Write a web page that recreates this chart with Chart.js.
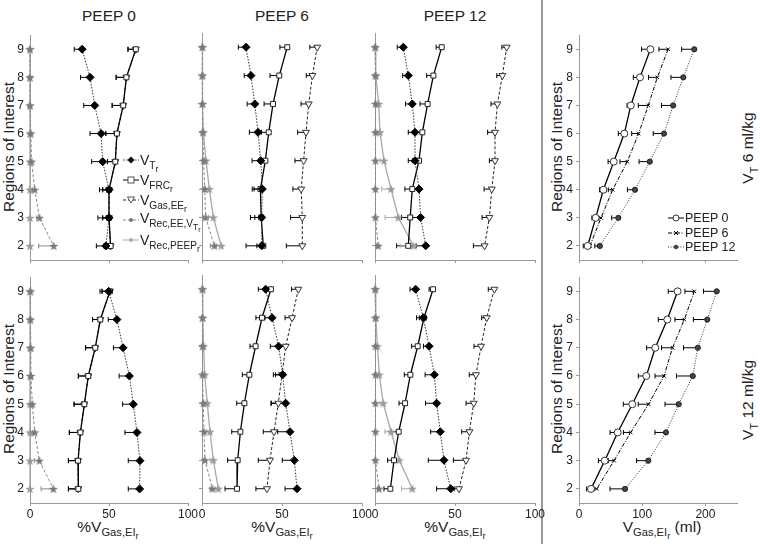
<!DOCTYPE html>
<html>
<head>
<meta charset="utf-8">
<script src="https://cdn.jsdelivr.net/npm/chart.js@4.4.0/dist/chart.umd.min.js"></script>
<style>
	body { margin: 0; width: 760px; height: 544px; background: #fff; position: relative; overflow: hidden;
		font-family: "Liberation Sans", Arial, sans-serif; color: #222; }
	.panel { position: absolute; }
	.txt { position: absolute; white-space: nowrap; line-height: 1; }
	.rot { transform: translate(-50%, -50%) rotate(-90deg); }
	.ctr { transform: translateX(-50%); }
	sub { font-size: 0.72em; vertical-align: -0.4em; line-height: 0; }
	sub sub { font-size: 0.85em; vertical-align: -0.3em; }
	.leg { position: absolute; font-size: 14px; }
	.leg div { height: 20px; display: flex; align-items: center; }
	.leg svg { margin-right: 1px; }
	.leg2 { position: absolute; font-size: 12.5px; }
	.leg2 div { height: 14.5px; display: flex; align-items: center; }
	.leg2 svg { margin-right: 1px; }
</style>
</head>
<body>

<div class="txt ctr" style="left:109px; top:8px; font-size:15.5px;">PEEP 0</div>
<div class="txt ctr" style="left:282px; top:8px; font-size:15.5px;">PEEP 6</div>
<div class="txt ctr" style="left:455px; top:8px; font-size:15.5px;">PEEP 12</div>

<div class="txt rot" style="left:9px; top:147px; font-size:15.5px;">Regions of Interest</div>
<div class="txt rot" style="left:9px; top:389px; font-size:15.5px;">Regions of Interest</div>
<div class="txt rot" style="left:557px; top:147px; font-size:15.5px;">Regions of Interest</div>
<div class="txt rot" style="left:557px; top:389px; font-size:15.5px;">Regions of Interest</div>

<div class="txt rot" style="left:748px; top:148px; font-size:15.5px;">V<sub>T</sub> 6 ml/kg</div>
<div class="txt rot" style="left:748px; top:400px; font-size:15.5px;">V<sub>T</sub> 12 ml/kg</div>

<div class="txt ctr" style="left:108px; top:519px; font-size:15.5px;">%V<sub>Gas,EI<sub>r</sub></sub></div>
<div class="txt ctr" style="left:282px; top:519px; font-size:15.5px;">%V<sub>Gas,EI<sub>r</sub></sub></div>
<div class="txt ctr" style="left:455px; top:519px; font-size:15.5px;">%V<sub>Gas,EI<sub>r</sub></sub></div>
<div class="txt ctr" style="left:662px; top:519px; font-size:15.5px;">V<sub>Gas,EI<sub>r</sub></sub> (ml)</div>

<div style="position:absolute; left:541px; top:0; width:2px; height:544px; background:#999;"></div>

<div id="panels"></div>

<div class="leg" style="left:123px; top:150px;">
	<div><svg width="16" height="10"><line x1="0" y1="5" x2="16" y2="5" stroke="#333" stroke-dasharray="1.5 1.5"/><polygon points="8,1.5 11.5,5 8,8.5 4.5,5" fill="#000"/></svg><span>V<sub>T<sub>r</sub></sub></span></div>
	<div><svg width="16" height="10"><line x1="0" y1="5" x2="16" y2="5" stroke="#000"/><rect x="5" y="2" width="6" height="6" fill="#fff" stroke="#555"/></svg><span>V<sub>FRC<sub>r</sub></sub></span></div>
	<div><svg width="16" height="10"><line x1="0" y1="5" x2="16" y2="5" stroke="#222" stroke-dasharray="3 2"/><polygon points="4.5,2 11.5,2 8,8" fill="#fff" stroke="#555"/></svg><span>V<sub>Gas,EE<sub>r</sub></sub></span></div>
	<div><svg width="16" height="10"><line x1="0" y1="5" x2="16" y2="5" stroke="#888" stroke-dasharray="3 2"/><circle cx="8" cy="5" r="2" fill="#777"/></svg><span>V<sub>Rec,EE,V<sub>T<sub>r</sub></sub></sub></span></div>
	<div><svg width="16" height="10"><line x1="0" y1="5" x2="16" y2="5" stroke="#aaa"/><circle cx="8" cy="5" r="2" fill="#aaa"/></svg><span>V<sub>Rec,PEEP<sub>r</sub></sub></span></div>
</div>

<div class="leg2" style="left:668px; top:211px;">
	<div><svg width="16" height="10"><line x1="0" y1="5" x2="16" y2="5" stroke="#000"/><circle cx="8" cy="5" r="3" fill="#fff" stroke="#333"/></svg><span>PEEP 0</span></div>
	<div><svg width="16" height="10"><line x1="0" y1="5" x2="16" y2="5" stroke="#000" stroke-dasharray="4 1.5 1 1.5"/><path d="M6 3 L10 7 M10 3 L6 7" stroke="#000"/></svg><span>PEEP 6</span></div>
	<div><svg width="16" height="10"><line x1="0" y1="5" x2="16" y2="5" stroke="#333" stroke-dasharray="1 1.5"/><circle cx="8" cy="5" r="2.2" fill="#444"/></svg><span>PEEP 12</span></div>
</div>

<script>
	'use strict';

	// regions along the y axis, listed from top (9) to bottom (2)
	const regions = [9, 8, 7, 6, 5, 4, 3, 2];
	const regionTicks = [2, 3, 4, 5, 6, 7, 8, 9];
	const pctTicks = [0, 50, 100];
	const mlTicks = [0, 100, 200];

	// VT 6 ml/kg, PEEP 0
	const vt6p0VT = [33, 38, 41, 45, 46, 50, 50, 48];
	const vt6p0VTErr = [5, 6, 7, 7, 7, 6, 7, 6];
	const vt6p0FRC = [67, 61, 59, 55, 54, 50, 50, 51];
	const vt6p0FRCErr = [5, 6.5, 7, 7, 5, 4, 4, 4];
	const vt6p0Gas = [67, 61, 59, 55, 54, 50, 50, 51];
	const vt6p0RecEE = [0, 0, 0, 0.5, 1, 3, 6, 15];
	const vt6p0RecEEErr = [0.5, 0.5, 0.5, 0.8, 1, 1.5, 1.7, 9.5];
	const vt6p0RecPEEP = [0, 0, 0, 0, 0, 0, 0, 0];

	// VT 6 ml/kg, PEEP 6
	const vt6p6VT = [27.5, 30.6, 33, 35, 36.7, 37.7, 37.3, 37.3];
	const vt6p6VTErr = [4.8, 4.2, 4.8, 5.4, 5.4, 6.3, 7, 9.8];
	const vt6p6FRC = [53.3, 48.3, 44.4, 41.7, 39.6, 36.5, 37, 38.3];
	const vt6p6FRCErr = [4.6, 5.8, 5.6, 4.5, 4, 4, 4, 4];
	const vt6p6Gas = [72, 69, 66.7, 65, 63.5, 62, 62.7, 62.7];
	const vt6p6GasErr = [4.6, 3.8, 4.8, 5.2, 5.4, 5.2, 7.3, 10];
	const vt6p6RecEE = [0.2, 0.2, 0.3, 0.5, 1, 1.7, 2.3, 7.7];
	const vt6p6RecEEErr = [0.5, 0.5, 0.5, 0.5, 0.8, 1, 1.5, 2.5];
	const vt6p6RecPEEP = [0.3, 0.3, 0.3, 0.8, 2.5, 4.6, 7.1, 12];
	const vt6p6RecPEEPErr = [0.5, 0.5, 0.5, 0.8, 1.5, 2.5, 3, 3];

	// VT 6 ml/kg, PEEP 12
	const vt6p12VT = [17.7, 20.8, 23.3, 25, 25, 27.5, 28.5, 31.7];
	const vt6p12VTErr = [3.8, 3.5, 4.2, 4.2, 4.2, 5, 5, 6];
	const vt6p12FRC = [41.7, 36.5, 32.9, 29.6, 27.5, 23.3, 22, 20.8];
	const vt6p12FRCErr = [3.5, 4.2, 4.8, 4.5, 4, 4.6, 5.4, 7.3];
	const vt6p12Gas = [82.3, 79.6, 76.5, 75, 75, 73, 71.5, 68.5];
	const vt6p12GasErr = [3, 3.5, 4, 4.6, 3.5, 4.8, 4.6, 7];
	const vt6p12RecEE = [0.3, 0.3, 0.3, 0.3, 0.3, 0.3, 0.3, 2];
	const vt6p12RecEEErr = [0.5, 0.5, 0.5, 0.5, 0.5, 0.5, 0.5, 1];
	const vt6p12RecPEEP = [0, 0.5, 2.3, 3.1, 5.6, 10, 14.6, 24];
	const vt6p12RecPEEPErr = [0.5, 1, 1, 1.5, 2.5, 5.8, 8.3, 8.3];

	// VT 12 ml/kg, PEEP 0
	const vt12p0VT = [49.8, 55, 58.9, 62.9, 65.4, 67.7, 69.6, 69.4];
	const vt12p0VTErr = [5.5, 5.5, 6.1, 6.5, 6.8, 7.6, 7.4, 7.2];
	const vt12p0FRC = [50.6, 44.5, 41.3, 36.9, 34.4, 31.9, 30.4, 30.6];
	const vt12p0FRCErr = [5, 4.9, 6.1, 6.3, 6.5, 7, 6.1, 6.3];
	const vt12p0Gas = [50.6, 44.5, 41.3, 36.9, 34.4, 31.9, 30.4, 30.6];
	const vt12p0RecEE = [0.3, 0.3, 0.5, 0.6, 1.5, 3, 5.9, 14.8];
	const vt12p0RecEEErr = [0.5, 0.5, 0.5, 0.8, 1, 1.5, 3.2, 7.8];
	const vt12p0RecPEEP = [0, 0, 0, 0, 0, 0, 0, 0];

	// VT 12 ml/kg, PEEP 6
	const vt12p6VT = [39.8, 43.8, 47.9, 50.4, 52.3, 55, 57.7, 59.4];
	const vt12p6VTErr = [4.6, 4.4, 5.2, 5.8, 9, 7.7, 7.5, 7.5];
	const vt12p6FRC = [43.1, 37.5, 33.5, 29.6, 26.5, 24, 22.3, 21.9];
	const vt12p6FRCErr = [3.8, 3.8, 3.5, 4.4, 4.8, 5.4, 6.3, 7.5];
	const vt12p6Gas = [60.2, 56.3, 52.3, 50, 47.7, 45, 42.5, 40.6];
	const vt12p6GasErr = [4.2, 4.4, 4.6, 4, 4.6, 6.7, 7.3, 6.9];
	const vt12p6RecEE = [0.3, 0.3, 0.3, 0.3, 0.8, 1.2, 1.9, 6.5];
	const vt12p6RecEEErr = [0.5, 0.5, 0.5, 0.5, 0.5, 0.8, 1, 1.5];
	const vt12p6RecPEEP = [0.3, 0.5, 1, 1.7, 3.3, 5, 7.1, 10.2];
	const vt12p6RecPEEPErr = [0.5, 0.5, 0.5, 1, 1.5, 2, 2, 2];

	// VT 12 ml/kg, PEEP 12
	const vt12p12VT = [25.4, 30.2, 33.8, 37.1, 38.5, 40.8, 43.1, 47.3];
	const vt12p12VTErr = [3.5, 4.2, 3.5, 5.8, 6.9, 6, 9.8, 8.8];
	const vt12p12FRC = [36.3, 30.6, 26.7, 22.1, 18.8, 14.8, 11.9, 9.6];
	const vt12p12FRCErr = [2.5, 2.9, 3.8, 3.8, 3.8, 4.4, 4, 4];
	const vt12p12Gas = [74.6, 69.8, 66.3, 63.1, 61.7, 59, 56.9, 52.5];
	const vt12p12GasErr = [3.8, 3.1, 4.4, 4.2, 4.8, 4.8, 7.9, 3];
	const vt12p12RecEE = [0.3, 0.3, 0.3, 0.3, 0.3, 0.3, 0.3, 2.5];
	const vt12p12RecEEErr = [0.5, 0.5, 0.5, 0.5, 0.5, 0.5, 0.5, 1];
	const vt12p12RecPEEP = [0, 0.5, 1.5, 2.7, 5.2, 10, 15.2, 23.3];
	const vt12p12RecPEEPErr = [0.5, 0.5, 1, 1.5, 2, 3.8, 5, 6.7];

	// absolute volumes (ml), VT 6 ml/kg
	const vt6MlP0 = [113, 96.5, 82, 71.7, 55, 38.5, 26.4, 13.7];
	const vt6MlP0Err = [14, 10.5, 6, 9.5, 9, 6, 6, 7];
	const vt6MlP6 = [141, 124, 109.6, 94.4, 76.4, 53.3, 34.8, 17.4];
	const vt6MlP6Err = [14.6, 14, 15.8, 11, 11.6, 7, 5, 5];
	const vt6MlP12 = [182.4, 165, 149, 134.5, 112, 88.6, 62.2, 33];
	const vt6MlP12Err = [20, 19.5, 18.5, 17, 17, 12, 10.5, 8];

	// absolute volumes (ml), VT 12 ml/kg
	const vt12MlP0 = [156, 139.7, 120.7, 106.5, 84.3, 61.2, 40.7, 19];
	const vt12MlP0Err = [14.8, 14.2, 13.7, 12.7, 14.2, 12, 10, 6.9];
	const vt12MlP6 = [182.4, 166.6, 148, 134.5, 110, 81.8, 55.4, 28];
	const vt12MlP6Err = [14.8, 14.8, 17.4, 14.2, 16.3, 11.6, 9, 4.2];
	const vt12MlP12 = [218, 203, 188, 180, 157.7, 137.6, 109.6, 72.8];
	const vt12MlP12Err = [21, 22, 22.7, 25.8, 21.6, 17.4, 18.5, 23.7];

	/**
	 * Small filled star used as point marker for the recruitment series
	 */
	function starMarker(color) {
		const c = document.createElement('canvas');
		c.width = 10; c.height = 10;
		const ctx = c.getContext('2d');
		ctx.fillStyle = color;
		ctx.beginPath();
		for (let i = 0; i < 10; i++) {
			const r = i % 2 ? 2 : 4.8;
			const a = -Math.PI / 2 + i * Math.PI / 5;
			ctx.lineTo(5 + r * Math.cos(a), 5.4 + r * Math.sin(a));
		}
		ctx.closePath();
		ctx.fill();
		return c;
	}

	const starDark = starMarker('#7a7a7a');
	const starLight = starMarker('#9a9a9a');

	const styleVT = { borderColor: '#333', borderWidth: 1, borderDash: [1.5, 1.5], pointStyle: 'rectRot', pointRadius: 4, pointBackgroundColor: '#000', pointBorderColor: '#000', errColor: '#000' };
	const styleFRC = { borderColor: '#000', borderWidth: 1.3, pointStyle: 'rect', pointRadius: 3.5, pointBackgroundColor: '#fff', pointBorderColor: '#222', pointBorderWidth: 1, errColor: '#000' };
	const styleGas = { borderColor: '#222', borderWidth: 1, borderDash: [3, 2], pointStyle: 'triangle', pointRotation: 180, pointRadius: 4, pointBackgroundColor: '#fff', pointBorderColor: '#333', pointBorderWidth: 1, errColor: '#000' };
	const styleRecEE = { borderColor: '#888', borderWidth: 1, borderDash: [3, 2], pointStyle: starDark, errColor: '#888' };
	const styleRecPEEP = { borderColor: '#a8a8a8', borderWidth: 1.3, pointStyle: starLight, errColor: '#a8a8a8' };

	const styleP0 = { borderColor: '#000', borderWidth: 1.3, pointStyle: 'circle', pointRadius: 3.5, pointBackgroundColor: '#fff', pointBorderColor: '#333', pointBorderWidth: 1, errColor: '#000' };
	const styleP6 = { borderColor: '#000', borderWidth: 1, borderDash: [4, 1.5, 1, 1.5], pointStyle: 'crossRot', pointRadius: 2.5, pointBorderColor: '#000', pointBorderWidth: 1, errColor: '#000' };
	const styleP12 = { borderColor: '#333', borderWidth: 1, borderDash: [1, 1.5], pointStyle: 'circle', pointRadius: 2.6, pointBackgroundColor: '#444', pointBorderColor: '#222', pointBorderWidth: 1, errColor: '#000' };

	/**
	 * Build one dataset: values run along x, regions along y
	 */
	function series(values, errs, style) {
		return Object.assign({
			data: values.map((v, i) => ({ x: v, y: regions[i] })),
			errs: errs,
			clip: false
		}, style);
	}

	// one-sided (left) error bars with an end cap
	const errorBars = {
		id: 'errorBars',
		beforeDatasetsDraw(chart) {
			const ctx = chart.ctx;
			const xs = chart.scales.x;
			const ys = chart.scales.y;
			chart.data.datasets.forEach(ds => {
				if (!ds.errs) return;
				ctx.save();
				ctx.strokeStyle = ds.errColor;
				ctx.lineWidth = 1;
				ds.data.forEach((p, i) => {
					const e = ds.errs[i];
					if (!e) return;
					const x0 = xs.getPixelForValue(p.x - e);
					const x1 = xs.getPixelForValue(p.x);
					const y = ys.getPixelForValue(p.y);
					ctx.beginPath();
					ctx.moveTo(x0, y); ctx.lineTo(x1, y);
					ctx.moveTo(x0, y - 2.5); ctx.lineTo(x0, y + 2.5);
					ctx.stroke();
				});
				ctx.restore();
			});
		}
	};

	const cols = [[30, 188], [202, 362], [375, 535], [579, 737]];
	const rows = [[33, 260], [275, 503]];
	const tickFont = { family: '"Liberation Sans", Arial, sans-serif', size: 12 };

	/**
	 * Create one panel whose plot area sits at the given column/row
	 */
	function makePanel(col, row, datasets, xMax, xTicks) {
		const [L, R] = cols[col];
		const [T, B] = rows[row];
		const wrap = document.createElement('div');
		wrap.className = 'panel';
		wrap.style.left = (L - 30) + 'px';
		wrap.style.top = (T - 8) + 'px';
		const canvas = document.createElement('canvas');
		canvas.width = (R - L) + 44;
		canvas.height = (B - T) + 30;
		wrap.appendChild(canvas);
		document.getElementById('panels').appendChild(wrap);

		const showY = col === 0 || col === 3;
		const showX = row === 1;

		new Chart(canvas, {
			type: 'line',
			data: { datasets: datasets },
			options: {
				responsive: false,
				animation: false,
				events: [],
				layout: { padding: { left: 0, top: 8, right: 14, bottom: 0 } },
				plugins: { legend: { display: false }, tooltip: { enabled: false } },
				scales: {
					x: {
						type: 'linear',
						min: 0,
						max: xMax,
						afterBuildTicks: s => { s.ticks = xTicks.map(v => ({ value: v })); },
						afterFit: s => { s.height = 22; },
						grid: { display: true, drawOnChartArea: false, drawTicks: true, tickLength: 3, color: '#999' },
						border: { display: true, color: '#999', width: 1 },
						ticks: { display: showX, padding: 1, color: '#222', font: tickFont, maxRotation: 0 }
					},
					y: {
						type: 'linear',
						min: 1.5,
						max: 9.5,
						afterBuildTicks: s => { s.ticks = regionTicks.map(v => ({ value: v })); },
						afterFit: s => { s.width = 30; },
						grid: { display: true, drawOnChartArea: false, drawTicks: true, tickLength: 3, color: '#999' },
						border: { display: true, color: '#999', width: 1 },
						ticks: { display: showY, padding: 3, color: '#222', font: tickFont }
					}
				}
			},
			plugins: [errorBars]
		});
	}

	// top row: VT 6 ml/kg
	makePanel(0, 0, [
		series(vt6p0VT, vt6p0VTErr, styleVT),
		series(vt6p0FRC, vt6p0FRCErr, styleFRC),
		series(vt6p0Gas, vt6p0FRCErr, styleGas),
		series(vt6p0RecEE, vt6p0RecEEErr, styleRecEE),
		series(vt6p0RecPEEP, null, styleRecPEEP)
	], 100, pctTicks);

	makePanel(1, 0, [
		series(vt6p6VT, vt6p6VTErr, styleVT),
		series(vt6p6FRC, vt6p6FRCErr, styleFRC),
		series(vt6p6Gas, vt6p6GasErr, styleGas),
		series(vt6p6RecEE, vt6p6RecEEErr, styleRecEE),
		series(vt6p6RecPEEP, vt6p6RecPEEPErr, styleRecPEEP)
	], 100, pctTicks);

	makePanel(2, 0, [
		series(vt6p12VT, vt6p12VTErr, styleVT),
		series(vt6p12FRC, vt6p12FRCErr, styleFRC),
		series(vt6p12Gas, vt6p12GasErr, styleGas),
		series(vt6p12RecEE, vt6p12RecEEErr, styleRecEE),
		series(vt6p12RecPEEP, vt6p12RecPEEPErr, styleRecPEEP)
	], 100, pctTicks);

	makePanel(3, 0, [
		series(vt6MlP0, vt6MlP0Err, styleP0),
		series(vt6MlP6, vt6MlP6Err, styleP6),
		series(vt6MlP12, vt6MlP12Err, styleP12)
	], 250, mlTicks);

	// bottom row: VT 12 ml/kg
	makePanel(0, 1, [
		series(vt12p0VT, vt12p0VTErr, styleVT),
		series(vt12p0FRC, vt12p0FRCErr, styleFRC),
		series(vt12p0Gas, vt12p0FRCErr, styleGas),
		series(vt12p0RecEE, vt12p0RecEEErr, styleRecEE),
		series(vt12p0RecPEEP, null, styleRecPEEP)
	], 100, pctTicks);

	makePanel(1, 1, [
		series(vt12p6VT, vt12p6VTErr, styleVT),
		series(vt12p6FRC, vt12p6FRCErr, styleFRC),
		series(vt12p6Gas, vt12p6GasErr, styleGas),
		series(vt12p6RecEE, vt12p6RecEEErr, styleRecEE),
		series(vt12p6RecPEEP, vt12p6RecPEEPErr, styleRecPEEP)
	], 100, pctTicks);

	makePanel(2, 1, [
		series(vt12p12VT, vt12p12VTErr, styleVT),
		series(vt12p12FRC, vt12p12FRCErr, styleFRC),
		series(vt12p12Gas, vt12p12GasErr, styleGas),
		series(vt12p12RecEE, vt12p12RecEEErr, styleRecEE),
		series(vt12p12RecPEEP, vt12p12RecPEEPErr, styleRecPEEP)
	], 100, pctTicks);

	makePanel(3, 1, [
		series(vt12MlP0, vt12MlP0Err, styleP0),
		series(vt12MlP6, vt12MlP6Err, styleP6),
		series(vt12MlP12, vt12MlP12Err, styleP12)
	], 250, mlTicks);
</script>
</body>
</html>
